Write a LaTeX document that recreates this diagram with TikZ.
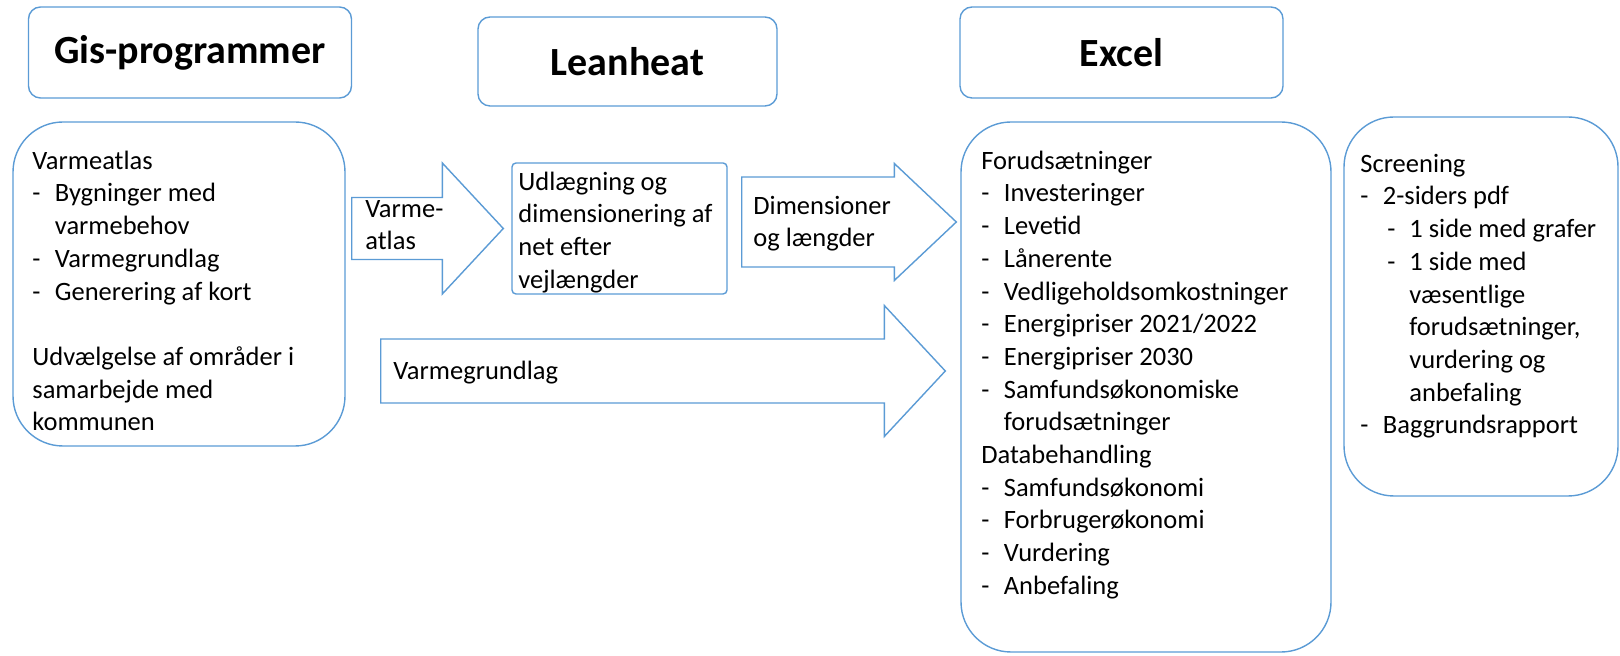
\documentclass[tikz,border=0pt]{standalone}
\usepackage{fontspec}
\setmainfont{Carlito}
\usetikzlibrary{positioning,calc}

\definecolor{boxblue}{RGB}{91,155,213}

\newcommand{\itm}{\makebox[11.25pt][l]{-}}
\newcommand{\cnt}{\hspace*{11.25pt}}
\newcommand{\subitm}{\hspace*{13.5pt}\makebox[11pt][l]{-}}
\newcommand{\subcnt}{\hspace*{24.5pt}}

% block arrow: from, to, start gap, end gap, half body, half head, head length
\newcommand{\blockarrow}[7]{%
  \draw[flowarrow] ($(#1)+(#3,-#5)$) -- ($(#2)+(-#4-#7,-#5)$)
    -- ($(#2)+(-#4-#7,-#6)$) -- ($(#2)+(-#4,0)$)
    -- ($(#2)+(-#4-#7,#6)$) -- ($(#2)+(-#4-#7,#5)$)
    -- ($(#1)+(#3,#5)$) -- cycle;}

\begin{document}
\begin{tikzpicture}[x=0.5pt, y=-0.5pt]
\tikzset{blueline/.style={draw=boxblue, line width=0.7pt},
         titlebox/.style={blueline, rounded corners=6pt,
                          font=\fontsize{20}{24}\selectfont\bfseries},
         bodybox/.style={blueline, rounded corners=25pt},
         notebox/.style={blueline, rounded corners=2pt},
         flowarrow/.style={blueline, fill=white},
         bodytext/.style={anchor=north west, inner sep=0pt, align=left,
                          font=\fontsize{13.25}{16.35}\selectfont}}
\useasboundingbox (0,0) rectangle (1620,656);

% headings
\node[titlebox, minimum width=161.5pt, minimum height=45.5pt] (gis) at (190,52.5) {Gis-programmer};
\node[titlebox, minimum width=149.5pt, minimum height=44.5pt] (lean) at (627.5,61.5) {Leanheat};
\node[titlebox, minimum width=161.5pt, minimum height=45.5pt] (excel) at (1121.5,52.5) {Excel};

% boxes
\node[bodybox, minimum width=166pt, minimum height=162pt] (gisbody) at (179,284) {};
\node[notebox, minimum width=107.5pt, minimum height=65.5pt] (udl) at (619.5,228.5) {};
\node[bodybox, minimum width=185pt, minimum height=265pt] (excelbody) at (1146,387) {};
\node[bodybox, minimum width=137pt, minimum height=189.5pt] (screen) at (1481,306.5) {};

% arrows
\coordinate (atlasfrom) at (gisbody.east |- udl.west);
\coordinate (atlasto) at (udl.west);
\blockarrow{atlasfrom}{atlasto}{6}{8}{31}{65.5}{61}
\coordinate (dimfrom) at ([yshift=3.25pt]udl.east);
\coordinate (dimto) at (excelbody.west |- dimfrom);
\blockarrow{dimfrom}{dimto}{14}{4}{45}{58.5}{62}
\coordinate (grundfrom) at ([yshift=-43.5pt]gisbody.east);
\coordinate (grundto) at (excelbody.west |- grundfrom);
\blockarrow{grundfrom}{grundto}{35}{15}{32}{65.5}{61}

% texts
\node[bodytext] (gistxt) at (32,146) {\strut Varmeatlas\\
  \itm Bygninger med\\ \cnt varmebehov\\ \itm Varmegrundlag\\
  \itm Generering af kort\\ \mbox{}\\
  Udvælgelse af områder i\\ samarbejde med\\ kommunen};
\node[bodytext] (atlastxt) at (365,194) {\strut Varme-\\atlas};
\node[bodytext] (udltxt) at (518,167) {\strut Udlægning og\\
  dimensionering af\\ net efter\\ vejlængder};
\node[bodytext] (dimtxt) at (753,191) {\strut Dimensioner\\ og længder};
\node[bodytext] (grundtxt) at (393,356) {\strut Varmegrundlag};
\node[bodytext] (exceltxt) at (981,146) {\strut Forudsætninger\\
  \itm Investeringer\\ \itm Levetid\\ \itm Lånerente\\
  \itm Vedligeholdsomkostninger\\ \itm Energipriser 2021/2022\\
  \itm Energipriser 2030\\ \itm Samfundsøkonomiske\\ \cnt forudsætninger\\
  Databehandling\\ \itm Samfundsøkonomi\\ \itm Forbrugerøkonomi\\
  \itm Vurdering\\ \itm Anbefaling};
\node[bodytext] (screentxt) at (1360,149) {\strut Screening\\
  \itm 2-siders pdf\\ \subitm 1 side med grafer\\ \subitm 1 side med\\
  \subcnt væsentlige\\ \subcnt forudsætninger,\\ \subcnt vurdering og\\
  \subcnt anbefaling\\ \itm Baggrundsrapport};
\end{tikzpicture}
\end{document}
